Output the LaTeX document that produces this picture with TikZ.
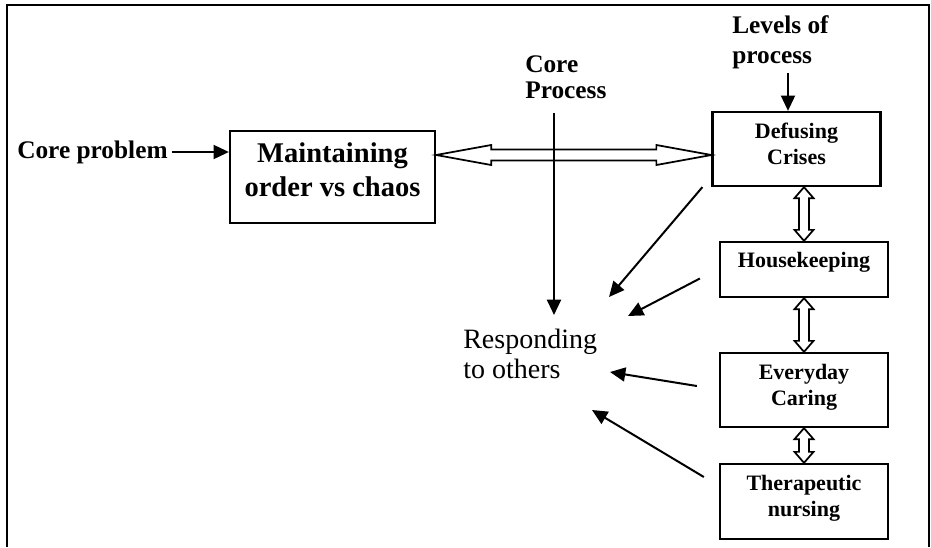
\documentclass[tikz,border=0pt]{standalone}
\usepackage{fontspec}
\setmainfont{Liberation Serif}
\usetikzlibrary{arrows.meta,calc}

\begin{document}
\begin{tikzpicture}[x=0.75pt,y=-0.75pt,
    level/.style={draw,line width=1.7pt,minimum width=126pt,align=center,inner sep=0pt,
                  text depth=8pt,font=\bfseries\fontsize{16.5}{19.5}\selectfont},
    heading/.style={align=left,inner sep=0pt,font=\bfseries\fontsize{19}{19.5}\selectfont},
    arr/.style={line width=1.5pt,-{Triangle[length=11.5pt,width=10.5pt]}},
    hollow/.style={line width=1.3pt,line join=miter}]
\useasboundingbox (0,0) rectangle (931,547);
% frame, open at the bottom
\draw[line width=1.5pt] (7,547) -- (7,5) -- (929,5) -- (929,547);

\node[heading,anchor=west] (problem) at (17,152) {Core problem};
\node[draw,line width=1.7pt,minimum width=153.75pt,minimum height=69pt,align=center,
      text depth=10.5pt,font=\bfseries\fontsize{21.4}{25.5}\selectfont] (maint) at (332.5,177)
      {Maintaining\\order vs chaos};

\node[heading,anchor=west] (core) at (525,77) {Core\\Process};
\node[heading,anchor=west,font=\bfseries\fontsize{19}{22.5}\selectfont] (levels) at (732,42.5) {Levels of\\process};

\node[level,minimum height=55.5pt] (defuse) at (796.5,149) {Defusing\\Crises};
\node[level,minimum height=41.25pt,text depth=14pt] (house) at (804,269.5) {Housekeeping};
\node[level,minimum height=55.5pt] (every) at (804,390) {Everyday\\Caring};
\node[level,minimum height=56.25pt] (thera) at (804,501.5) {Therapeutic\\nursing};

\node[anchor=west,align=left,inner sep=0pt,font=\fontsize{21}{22.5}\selectfont] (resp) at (463,354) {Responding\\to others};

% where the arrows meet round the core process
\coordinate (t0) at (554,315);
\coordinate (t1) at (609,297);
\coordinate (t2) at (628,316);
\coordinate (t3) at (610,372);
\coordinate (t4) at (592,410);

\draw[arr] ($(problem.east)+(4,0)$) -- (problem.east -| maint.west);
\draw[arr] ($(defuse.north |- levels.south)+(-8.5,4)$) -- ($(defuse.north)+(-8.5,0)$);

% open double arrows
\coordinate (R) at ($(defuse.west)+(0,6)$);
\coordinate (L) at (maint.east |- R);
\draw[hollow] (L) -- ++(55,-10) -- ++(0,4.5) -- ($(R)+(-55,-5.5)$) -- ++(0,-4.5) -- (R)
    -- ++(-55,10) -- ++(0,-4.5) -- ($(L)+(55,5.5)$) -- ++(0,4.5) -- cycle;
\foreach \a/\b in {defuse/house,house/every,every/thera}
  \draw[hollow] (\b.north |- \a.south) -- ++(9.5,11) -- ++(-4.5,0) -- ($(\b.north)+(5,-11)$)
      -- ++(4.5,0) -- (\b.north) -- ++(-9.5,-11) -- ++(4.5,0)
      -- ($(\a.south -| \b.north)+(-5,11)$) -- ++(-4.5,0) -- cycle;

\draw[arr] ($(core.south -| t0)+(0,14)$) -- (t0);
\draw[arr] ($(defuse.south west)+(-9,0)$) -- (t1);
\draw[arr] ($(house.west)+(-19,9)$) -- (t2);
\draw[arr] ($(every.west)+(-22,-4)$) -- (t3);
\draw[arr] ($(thera.west)+(-15,-24.5)$) -- (t4);
\end{tikzpicture}
\end{document}
